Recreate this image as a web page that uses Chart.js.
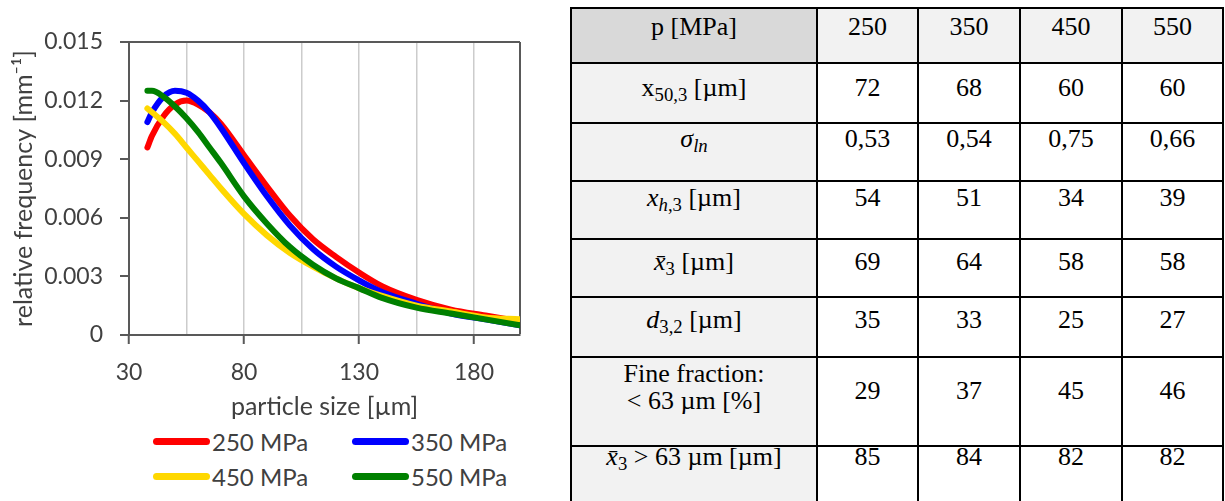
<!DOCTYPE html>
<html>
<head>
<meta charset="utf-8">
<title>particle size distribution</title>
<script src="https://cdn.jsdelivr.net/npm/chart.js@4.4.1/dist/chart.umd.min.js"></script>
<style>
  html, body { margin: 0; padding: 0; background: #fff; }
  body { width: 1225px; height: 501px; position: relative; overflow: hidden; }
  #chartBox { position: absolute; left: 0; top: 0; width: 560px; height: 423px; }
  .leg { position: absolute; height: 30px; display: flex; align-items: center;
         font-family: Lato, sans-serif; font-size: 24px; color: #404040; white-space: nowrap; }
  .leg span.sw { display: inline-block; width: 57px; height: 7px; border-radius: 4px; margin-right: 2px; }

  #tbl { position: absolute; left: 570px; top: 7px; border-collapse: collapse; table-layout: fixed;
         width: 652px; font-family: "Liberation Serif", "Times New Roman", serif; font-size: 26px; color: #000; }
  #tbl td { border: 2px solid #000; text-align: center; vertical-align: top; padding: 0; line-height: 26px; background: #fff; }
  #tbl td.lab { background: #f2f2f2; }
  #tbl tr.head td { background: #f2f2f2; }
  #tbl tr.head td.lab { background: #d9d9d9; }
  #tbl sub { font-size: 0.72em; line-height: 0; vertical-align: -0.28em; }
  #tbl tr:nth-child(1) { height: 55px; } #tbl tr:nth-child(1) td { padding-top: 5px; }
  #tbl tr:nth-child(2) { height: 60px; } #tbl tr:nth-child(2) td { padding-top: 11px; }
  #tbl tr:nth-child(3) { height: 58px; } #tbl tr:nth-child(3) td { padding-top: 2px; }
  #tbl tr:nth-child(4) { height: 58px; } #tbl tr:nth-child(4) td { padding-top: 3px; }
  #tbl tr:nth-child(5) { height: 58px; } #tbl tr:nth-child(5) td { padding-top: 9px; }
  #tbl tr:nth-child(6) { height: 60px; } #tbl tr:nth-child(6) td { padding-top: 9px; }
  #tbl tr:nth-child(7) { height: 89px; } #tbl tr:nth-child(7) td { padding-top: 20px; }
  #tbl tr:nth-child(7) td.lab { padding-top: 2px; line-height: 27px; }
  #tbl tr:nth-child(8) { height: 58px; } #tbl tr:nth-child(8) td { padding-top: 0; line-height: 20px; }
</style>
</head>
<body>
<div id="chartBox"><canvas id="psdChart" width="560" height="423"></canvas></div>
<div id="legend"></div>
<table id="tbl">
  <colgroup><col style="width:246px"><col style="width:101px"><col style="width:102px"><col style="width:102px"><col style="width:101px"></colgroup>
  <tbody id="tblBody"></tbody>
</table>

<script>
const sizes = [38, 40, 45, 50, 55, 60, 65, 70, 80, 90, 100, 110, 120, 130, 140, 155, 170, 185, 200];

// relative frequency [mm-1]
const freq250 = [0.0096, 0.0102, 0.0112, 0.0118, 0.0120, 0.0118, 0.0114, 0.0108, 0.0092, 0.0076, 0.0061, 0.0049, 0.0040, 0.0032, 0.0025, 0.0018, 0.0013, 0.0010, 0.0007];
const freq350 = [0.0109, 0.0114, 0.0122, 0.0125, 0.0124, 0.0120, 0.0114, 0.0106, 0.0088, 0.0071, 0.0056, 0.0044, 0.0035, 0.0028, 0.0022, 0.0016, 0.0011, 0.0008, 0.0005];
const freq450 = [0.0116, 0.0114, 0.0109, 0.0103, 0.0096, 0.0089, 0.0082, 0.0075, 0.0062, 0.0051, 0.0042, 0.0035, 0.0029, 0.0024, 0.0020, 0.0015, 0.0012, 0.0009, 0.0008];
const freq550 = [0.0125, 0.0125, 0.0122, 0.0117, 0.0111, 0.0104, 0.0096, 0.0088, 0.0071, 0.0057, 0.0045, 0.0036, 0.0029, 0.0024, 0.0019, 0.0014, 0.0011, 0.0008, 0.0005];

const seriesNames = ['250 MPa', '350 MPa', '450 MPa', '550 MPa'];
const seriesColors = ['#ff0000', '#0000ff', '#ffd800', '#008000'];

// x axis: gridlines every 25, labels every 50
const xGridValues = [30, 55, 80, 105, 130, 155, 180, 200];
const xTickLabels = [30, 80, 130, 180];
const yTickValues = [0, 0.003, 0.006, 0.009, 0.012, 0.015];

// table
const pressures = ['250', '350', '450', '550'];
const rowLabels = [
    'x<sub>50,3</sub> [µm]',
    '<i>σ</i><sub><i>ln</i></sub>',
    '<i>x</i><sub><i>h</i>,3</sub> [µm]',
    '<i>x̄</i><sub>3</sub> [µm]',
    '<i>d</i><sub>3,2</sub> [µm]',
    'Fine fraction:<br>&lt; 63 µm [%]',
    '<i>x̄</i><sub>3</sub> &gt; 63 µm [µm]'
];
const x503 = ['72', '68', '60', '60'];
const sigmaLn = ['0,53', '0,54', '0,75', '0,66'];
const xh3 = ['54', '51', '34', '39'];
const xMean3 = ['69', '64', '58', '58'];
const d32 = ['35', '33', '25', '27'];
const fineFraction = ['29', '37', '45', '46'];
const xMeanCoarse = ['85', '84', '82', '82'];

const axisColor = '#595959';
const gridColor = '#cccccc';
const textColor = '#404040';
const fontFamily = 'Lato, sans-serif';

// ---- table ----
const body = document.getElementById('tblBody');
let html = '<tr class="head"><td class="lab">p [MPa]</td>' + pressures.map(p => '<td>' + p + '</td>').join('') + '</tr>';
[x503, sigmaLn, xh3, xMean3, d32, fineFraction, xMeanCoarse].forEach((vals, i) => {
    html += '<tr><td class="lab">' + rowLabels[i] + '</td>' + vals.map(v => '<td>' + v + '</td>').join('') + '</tr>';
});
body.innerHTML = html;

// ---- legend (two columns like the excel one) ----
const legendPos = [[153, 426], [352, 426], [153, 461], [352, 461]];
const legend = document.getElementById('legend');
seriesNames.forEach((name, i) => {
    const d = document.createElement('div');
    d.className = 'leg';
    d.style.left = legendPos[i][0] + 'px';
    d.style.top = legendPos[i][1] + 'px';
    d.innerHTML = '<span class="sw" style="background:' + seriesColors[i] + '"></span>' + name;
    legend.appendChild(d);
});

// ---- chart ----
const allFreq = [freq250, freq350, freq450, freq550];
const drawOrder = [3, 2, 1, 0]; // green on top

const data = {
    datasets: allFreq.map((freq, i) => ({
        label: seriesNames[i],
        data: sizes.map((s, j) => ({x: s, y: freq[j]})),
        borderColor: seriesColors[i],
        backgroundColor: seriesColors[i],
        borderWidth: 6,
        borderCapStyle: 'round',
        borderJoinStyle: 'round',
        pointRadius: 0,
        fill: false,
        cubicInterpolationMode: 'monotone',
        order: drawOrder[i]
    }))
};

const config = {
    type: 'line',
    data: data,
    options: {
        responsive: false,
        animation: false,
        devicePixelRatio: 1,
        layout: {
            padding: {left: 0, top: 42, right: 40, bottom: 0}
        },
        scales: {
            x: {
                type: 'linear',
                min: 30,
                max: 200,
                afterBuildTicks: scale => { scale.ticks = xGridValues.map(v => ({value: v})); },
                afterFit: scale => { scale.height = 88; },
                ticks: {
                    autoSkip: false,
                    maxRotation: 0,
                    padding: 15,
                    color: textColor,
                    font: {family: fontFamily, size: 23},
                    callback: value => xTickLabels.includes(value) ? String(value) : ''
                },
                grid: {
                    color: ctx => {
                        if (!ctx.tick) return 'transparent';
                        if (ctx.tick.value === 200) return axisColor;
                        if (ctx.tick.value === 30) return 'transparent';
                        return gridColor;
                    },
                    lineWidth: ctx => (ctx.tick && ctx.tick.value === 200) ? 2 : 1.5,
                    tickLength: 9,
                    tickColor: ctx => (ctx.tick && xTickLabels.includes(ctx.tick.value)) ? axisColor : 'transparent',
                    tickWidth: 2
                },
                border: {color: axisColor, width: 2},
                title: {
                    display: true,
                    text: 'particle size [µm]',
                    color: textColor,
                    font: {family: fontFamily, size: 25},
                    padding: {top: 0, bottom: 1}
                }
            },
            y: {
                min: 0,
                max: 0.015,
                afterBuildTicks: scale => { scale.ticks = yTickValues.map(v => ({value: v})); },
                afterFit: scale => { scale.width = 129; },
                ticks: {
                    padding: 17,
                    color: textColor,
                    font: {family: fontFamily, size: 23},
                    callback: value => value === 0 ? '0' : value.toFixed(3)
                },
                grid: {
                    color: ctx => (ctx.tick && ctx.tick.value > 0.0149) ? axisColor : 'transparent',
                    lineWidth: 2,
                    tickLength: 9,
                    tickColor: axisColor,
                    tickWidth: 2
                },
                border: {color: axisColor, width: 2},
                title: {
                    display: true,
                    text: 'relative frequency [mm\u207B\u00B9]',
                    color: textColor,
                    font: {family: fontFamily, size: 25},
                    padding: {top: 9, bottom: 0}
                }
            }
        },
        plugins: {
            legend: {display: false},
            tooltip: {enabled: false}
        }
    }
};

const psdChart = new Chart(document.getElementById('psdChart'), config);
</script>
</body>
</html>
